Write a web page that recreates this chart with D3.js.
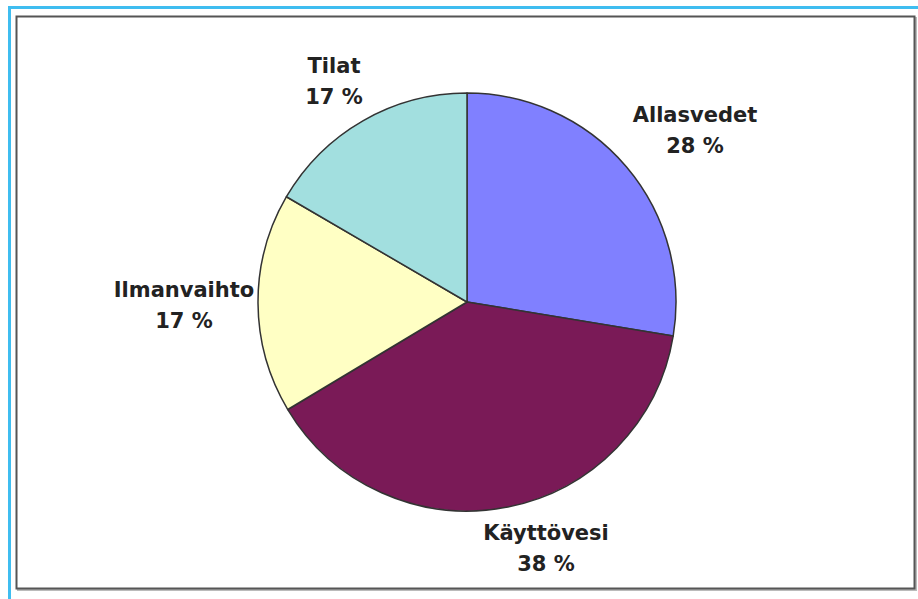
<!DOCTYPE html>
<html><head><meta charset="utf-8">
<script src="https://cdn.jsdelivr.net/npm/d3@7"></script>
<style>html,body{margin:0;padding:0;background:#fff;}svg{display:block;}</style>
</head><body>
<svg id="c" width="918" height="599"></svg>
<script>
const categories = ["Allasvedet", "Käyttövesi", "Ilmanvaihto", "Tilat"];
const values = [27.6, 38.8, 17.0, 16.6];
const labels = ["28 %", "38 %", "17 %", "17 %"];
const colors = ["#8080ff", "#7a1a57", "#ffffc4", "#a2dfdf"];

const svg = d3.select("#c");
// outer blue frame
svg.append("path").attr("d", "M9.5,599 L9.5,7.5 L918,7.5")
  .attr("fill", "none").attr("stroke", "#3fbdf0").attr("stroke-width", 3);
// shadow + chart box
svg.append("rect").attr("x", 18).attr("y", 18).attr("width", 898).attr("height", 572)
  .attr("fill", "none").attr("stroke", "#bbb").attr("stroke-width", 2);
svg.append("rect").attr("x", 16.5).attr("y", 16.5).attr("width", 898).attr("height", 572)
  .attr("fill", "#fff").attr("stroke", "#555").attr("stroke-width", 2);

const cx = 467, cy = 302, r = 209;
const pie = d3.pie().sort(null).value(d => d.v);
const arcs = pie(categories.map((c, i) => ({c, v: values[i], l: labels[i], col: colors[i]})));
const arc = d3.arc().innerRadius(0).outerRadius(r);
const g = svg.append("g").attr("transform", `translate(${cx},${cy})`);
g.selectAll("path").data(arcs).join("path")
  .attr("d", arc).attr("fill", d => d.data.col)
  .attr("stroke", "#333").attr("stroke-width", 1.5).attr("stroke-linejoin", "round");

const labelPos = {
  "Allasvedet": [695, 122],
  "Käyttövesi": [546, 540],
  "Ilmanvaihto": [184, 297],
  "Tilat": [334, 73]
};
arcs.forEach(d => {
  const pos = labelPos[d.data.c];
  const t = svg.append("text").attr("text-anchor", "middle")
    .attr("font-family", "DejaVu Sans, Verdana, sans-serif")
    .attr("font-weight", "bold").attr("font-size", 21).attr("fill", "#222");
  t.append("tspan").attr("x", pos[0]).attr("y", pos[1]).text(d.data.c);
  t.append("tspan").attr("x", pos[0]).attr("y", pos[1] + 31).text(d.data.l);
});
</script>
</body></html>
